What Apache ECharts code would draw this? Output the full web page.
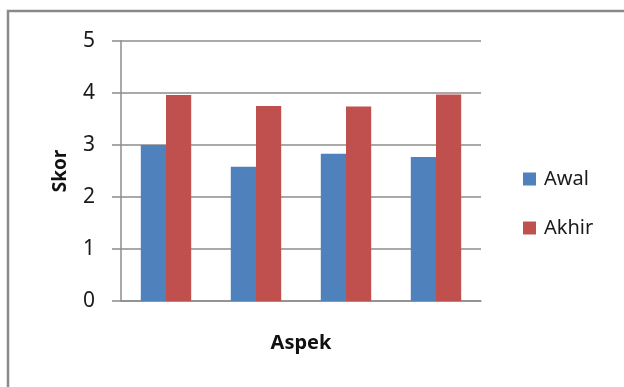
<!DOCTYPE html>
<html>
<head>
<meta charset="utf-8">
<script src="https://cdn.jsdelivr.net/npm/echarts@6/dist/echarts.min.js"></script>
<style>
  html, body { margin: 0; padding: 0; background: #fff; }
  #chart { width: 624px; height: 387px; }
</style>
</head>
<body>
<div id="chart"></div>
<script>
// Four aspects, scored at the start (Awal) and at the end (Akhir)
const categories = ['1', '2', '3', '4'];
const awal = [3.0, 2.58, 2.83, 2.77];
const akhir = [3.96, 3.75, 3.74, 3.97];
const seriesNames = ['Awal', 'Akhir'];

const font = 'Noto Sans, Liberation Sans, sans-serif';
const chart = echarts.init(document.getElementById('chart'), null, { renderer: 'canvas' });

chart.setOption({
  animation: false,
  backgroundColor: '#ffffff',
  graphic: [{
    type: 'rect',
    shape: { x: 8, y: 11, width: 700, height: 500 },
    style: { fill: 'none', stroke: '#8a8a8a', lineWidth: 2.5 },
    silent: true,
    z: -1
  }],
  grid: { left: 121, right: 143, top: 41, bottom: 86, containLabel: false },
  legend: {
    orient: 'vertical',
    left: 523,
    top: 168,
    padding: 0,
    itemWidth: 13,
    itemHeight: 13,
    itemGap: 27,
    icon: 'rect',
    data: seriesNames,
    textStyle: { fontFamily: font, fontSize: 20, color: '#1a1a1a', lineHeight: 22, padding: [0, 0, 0, 3] }
  },
  xAxis: {
    type: 'category',
    data: categories,
    name: 'Aspek',
    nameLocation: 'middle',
    nameGap: 32,
    nameTextStyle: { fontFamily: font, fontSize: 20, fontWeight: 'bold', color: '#111' },
    axisLine: { show: true, lineStyle: { color: '#8c8c8c', width: 1.5 } },
    axisTick: { show: false },
    axisLabel: { show: false }
  },
  yAxis: {
    type: 'value',
    min: 0,
    max: 5,
    interval: 1,
    name: 'Skor',
    nameLocation: 'middle',
    nameRotate: 90,
    nameGap: 51,
    nameTextStyle: { fontFamily: font, fontSize: 19, fontWeight: 'bold', color: '#111' },
    axisLine: { show: true, lineStyle: { color: '#8c8c8c', width: 1.5 } },
    axisTick: { show: true, length: 9, lineStyle: { color: '#8c8c8c', width: 1.5 } },
    axisLabel: { margin: 26, fontFamily: font, fontSize: 21, color: '#1a1a1a' },
    splitLine: { show: true, lineStyle: { color: '#8c8c8c', width: 1.5 } }
  },
  series: [
    {
      name: seriesNames[0],
      type: 'bar',
      data: awal,
      barGap: '0%',
      barCategoryGap: '44%',
      itemStyle: { color: '#4f81bd' }
    },
    {
      name: seriesNames[1],
      type: 'bar',
      data: akhir,
      barGap: '0%',
      barCategoryGap: '44%',
      itemStyle: { color: '#c0504d' }
    }
  ]
});
</script>
</body>
</html>
